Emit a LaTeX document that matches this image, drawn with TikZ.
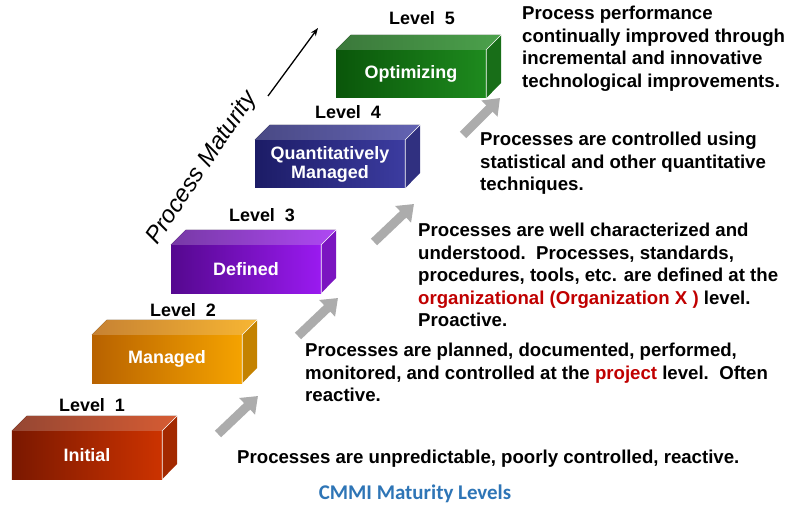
\documentclass[tikz,border=0pt]{standalone}
\usepackage{fontspec}
\setmainfont{Liberation Sans}
\newfontfamily\capfont{Carlito}
\usetikzlibrary{arrows.meta}
\definecolor{redw}{HTML}{C00000}
\definecolor{capblue}{HTML}{2E75B6}
\definecolor{r1}{HTML}{7A1800}\definecolor{r2}{HTML}{CC3300}
\definecolor{o1}{HTML}{B86200}\definecolor{o2}{HTML}{F5A300}
\definecolor{p1}{HTML}{55088F}\definecolor{p2}{HTML}{9A1AF0}
\definecolor{n1}{HTML}{1C1C66}\definecolor{n2}{HTML}{3C3CA0}
\definecolor{g1}{HTML}{0A560A}\definecolor{g2}{HTML}{1E8A1E}
\newcommand\cmmibox[6]{%
  \node[front, left color=#4, right color=#5] (#1) at (#2,#3) {#6};
  \fill[left color=#4!80!white, right color=#5!80!white] (#1.north west) -- ++(15,-15) -- ++(150,0) -- (#1.north east) -- cycle;
  \fill[#5!80!black] (#1.north east) -- ++(15,-15) -- ++(0,48) -- (#1.south east) -- cycle;
  \draw[white, line width=0.6bp] (#1.north east) -- ++(15,-15) (#1.north east)--(#1.south east);
}
\begin{document}
\begin{tikzpicture}[x=1bp,y=-1bp,
  front/.style={minimum width=150bp, minimum height=48bp, inner sep=0pt, text=white,
     font=\fontsize{18}{19}\selectfont\bfseries, align=center},
  lvl/.style={font=\fontsize{18}{20}\selectfont\bfseries},
  desc/.style={font=\fontsize{18.7}{22.6}\selectfont\bfseries, align=left, anchor=north west, inner sep=0pt},
  garrow/.style={line width=9bp, draw=gray!65, -{Triangle[width=22bp,length=15bp]}}]
\useasboundingbox (0,0) rectangle (800,520);
\cmmibox{b1}{87}{455}{r1}{r2}{Initial}
\cmmibox{b2}{167}{359}{o1}{o2}{Managed}
\cmmibox{b3}{246}{269}{p1}{p2}{Defined}
\cmmibox{b4}{330}{164}{n1}{n2}{Quantitatively\\Managed}
\cmmibox{b5}{411}{74}{g1}{g2}{Optimizing}
\node[lvl] (l1) at (92,405) {Level\ \ 1};
\node[lvl] (l2) at (183,310) {Level\ \ 2};
\node[lvl] (l3) at (262,215) {Level\ \ 3};
\node[lvl] (l4) at (348,112) {Level\ \ 4};
\node[lvl] (l5) at (422,18) {Level\ \ 5};
\coordinate (a1s) at (218,434); \coordinate (a1e) at (258,396);
\coordinate (a2s) at (298,336); \coordinate (a2e) at (338,298);
\coordinate (a3s) at (374,242); \coordinate (a3e) at (414,204);
\coordinate (a4s) at (463,135); \coordinate (a4e) at (500,98);
\draw[garrow] (a1s) -- (a1e);
\draw[garrow] (a2s) -- (a2e);
\draw[garrow] (a3s) -- (a3e);
\draw[garrow] (a4s) -- (a4e);
\coordinate (ms) at (268,96); \coordinate (me) at (318,28);
\draw[line width=1.3bp, -{Stealth[length=8bp]}] (ms) -- (me);
\node[rotate=56, font=\fontsize{24}{26}\selectfont\itshape] (pm) at (202,168) {Process Maturity};
\node[desc] (t5) at (522,6) {Process performance\\continually improved through\\incremental and innovative\\technological improvements.};
\node[desc] (t4) at (480,132) {Processes are controlled using\\statistical and other quantitative\\techniques.};
\node[desc] (t3) at (418,223) {Processes are well characterized and\\understood.\ \ Processes, standards,\\procedures, tools, etc. are defined at the\\\textcolor{redw}{organizational (Organization X )} level.\\Proactive.};
\node[desc] (t2) at (305,343) {Processes are planned, documented, performed,\\monitored, and controlled at the \textcolor{redw}{project} level.\ \ Often\\reactive.};
\node[desc] (t1) at (237,450) {Processes are unpredictable, poorly controlled, reactive.};
\node[font=\capfont\fontsize{21}{23}\selectfont\bfseries, text=capblue] (cap) at (415,494) {CMMI Maturity Levels};
\end{tikzpicture}
\end{document}
